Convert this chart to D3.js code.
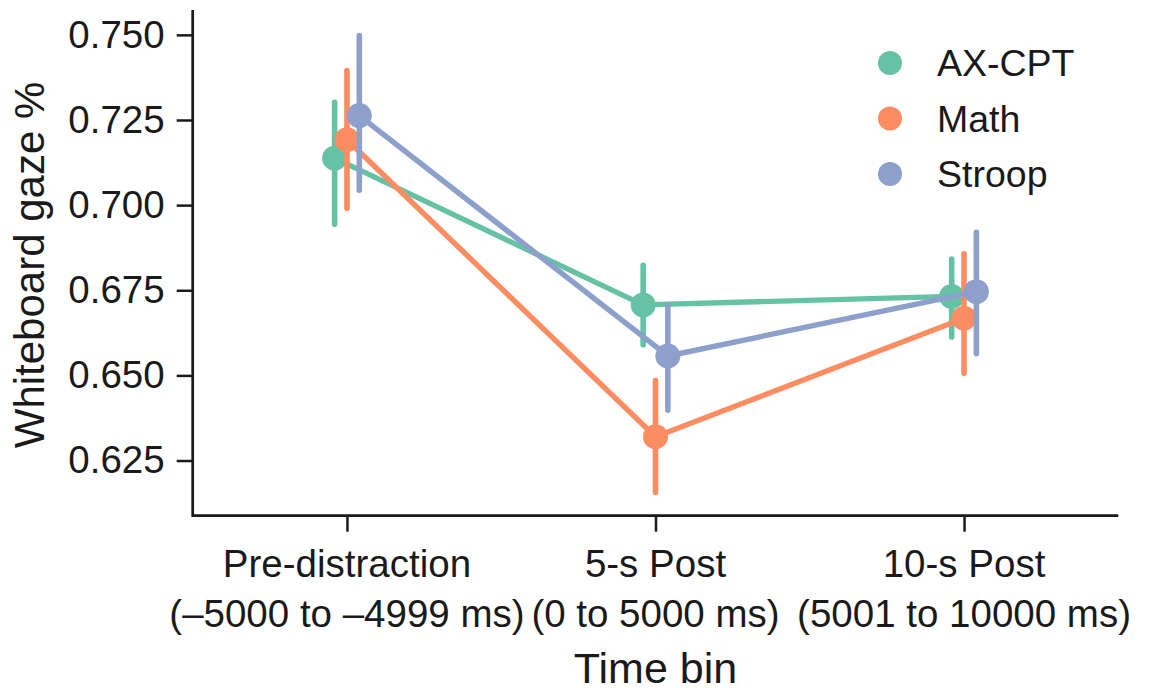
<!DOCTYPE html>
<html>
<head>
<meta charset="utf-8">
<script src="https://cdn.jsdelivr.net/npm/d3@7"></script>
<style>
  body { margin: 0; background: #fff; }
  svg text { font-family: "Liberation Sans", Arial, Helvetica, sans-serif; fill: #1a1a1a; }
</style>
</head>
<body>
<svg width="1166" height="692"></svg>
<script>
// time bins (two-line tick labels)
var binNames = ["Pre-distraction", "5-s Post", "10-s Post"];
var binRanges = ["(\u20135000 to \u20134999 ms)", "(0 to 5000 ms)", "(5001 to 10000 ms)"];

var tasks = ["AX-CPT", "Math", "Stroop"];
var taskColors = ["#66c2a5", "#fc8d62", "#8da0cb"];

// point estimates per task, one per time bin
var axcptMean = [0.7138, 0.6707, 0.6732];
var mathMean = [0.7192, 0.6320, 0.6668];
var stroopMean = [0.7263, 0.6557, 0.6746];

// confidence intervals
var axcptLow = [0.6944, 0.6590, 0.6613];
var axcptHigh = [0.7302, 0.6823, 0.6842];
var mathLow = [0.6991, 0.6156, 0.6506];
var mathHigh = [0.7395, 0.6485, 0.6857];
var stroopLow = [0.7044, 0.6398, 0.6564];
var stroopHigh = [0.7498, 0.6705, 0.6920];

var yTicks = [0.625, 0.650, 0.675, 0.700, 0.725, 0.750];

var series = [
  { name: tasks[0], mean: axcptMean, lo: axcptLow, hi: axcptHigh },
  { name: tasks[1], mean: mathMean, lo: mathLow, hi: mathHigh },
  { name: tasks[2], mean: stroopMean, lo: stroopLow, hi: stroopHigh }
];

var svg = d3.select("svg");

// plot box (spines)
var x0 = 192.7, x1 = 1118.3, y0 = 10, y1 = 515.7;

var x = d3.scalePoint()
    .domain(binNames)
    .range([x0, x1])
    .padding(0.5);

var y = d3.scaleLinear()
    .domain([0.6088, 0.7573])
    .range([y1, y0]);

var color = d3.scaleOrdinal().domain(tasks).range(taskColors);

// dodge the hues a little around each category
var dodge = x.step() * 0.04;
function xPos(i, k) { return x(binNames[i]) + (k - 1) * dodge; }

// axes
var yAxis = svg.append("g")
    .attr("transform", "translate(" + x0 + ",0)")
    .call(d3.axisLeft(y).tickValues(yTicks).tickFormat(d3.format(".3f")).tickSize(16).tickPadding(12));

var xAxis = svg.append("g")
    .attr("transform", "translate(0," + y1 + ")")
    .call(d3.axisBottom(x).tickSize(16).tickFormat(""));

[yAxis, xAxis].forEach(function(g) {
  g.select(".domain").remove();
  g.selectAll(".tick line").attr("stroke", "#1a1a1a").attr("stroke-width", 2.5);
});
yAxis.selectAll(".tick text").style("font-size", "38.5px").attr("fill", "#1a1a1a");

// spines (left + bottom only)
svg.append("path")
    .attr("d", "M" + x0 + "," + y0 + "V" + y1 + "H" + x1)
    .attr("fill", "none")
    .attr("stroke", "#1a1a1a")
    .attr("stroke-width", 2.7);

// x tick labels, two lines each
var xl = svg.append("g").selectAll("g")
    .data(binNames)
    .enter().append("g");
xl.append("text")
    .attr("x", function(d) { return x(d); })
    .attr("y", 577)
    .attr("text-anchor", "middle")
    .style("font-size", "38.5px")
    .text(function(d) { return d; });
xl.append("text")
    .attr("x", function(d) { return x(d); })
    .attr("y", 627)
    .attr("text-anchor", "middle")
    .style("font-size", "38.5px")
    .text(function(d, i) { return binRanges[i]; });

// axis titles
svg.append("text")
    .attr("x", (x0 + x1) / 2)
    .attr("y", 683)
    .attr("text-anchor", "middle")
    .style("font-size", "43px")
    .text("Time bin");

svg.append("text")
    .attr("transform", "translate(44,265) rotate(-90)")
    .attr("text-anchor", "middle")
    .style("font-size", "42px")
    .text("Whiteboard gaze %");

// data: per task, CI bars, connecting line, then points
var line = d3.line();

series.forEach(function(s, k) {
  var c = color(s.name);
  var g = svg.append("g").attr("class", "task");

  g.selectAll("line.ci")
    .data(s.mean)
    .enter().append("line")
      .attr("class", "ci")
      .attr("x1", function(d, i) { return xPos(i, k); })
      .attr("x2", function(d, i) { return xPos(i, k); })
      .attr("y1", function(d, i) { return y(s.lo[i]); })
      .attr("y2", function(d, i) { return y(s.hi[i]); })
      .attr("stroke", c)
      .attr("stroke-width", 5.6)
      .attr("stroke-linecap", "round");

  g.append("path")
    .attr("d", line(s.mean.map(function(d, i) { return [xPos(i, k), y(d)]; })))
    .attr("fill", "none")
    .attr("stroke", c)
    .attr("stroke-width", 5.4)
    .attr("stroke-linejoin", "round")
    .attr("stroke-linecap", "round");

  g.selectAll("circle")
    .data(s.mean)
    .enter().append("circle")
      .attr("cx", function(d, i) { return xPos(i, k); })
      .attr("cy", function(d) { return y(d); })
      .attr("r", 12.5)
      .attr("fill", c);
});

// legend
var legend = svg.append("g").selectAll("g")
    .data(tasks)
    .enter().append("g")
      .attr("transform", function(d, i) { return "translate(890," + (63 + i * 55.5) + ")"; });
legend.append("circle")
    .attr("r", 12)
    .attr("fill", function(d) { return color(d); });
legend.append("text")
    .attr("x", 47)
    .attr("dy", "0.35em")
    .style("font-size", "37.5px")
    .text(function(d) { return d; });
</script>
</body>
</html>
